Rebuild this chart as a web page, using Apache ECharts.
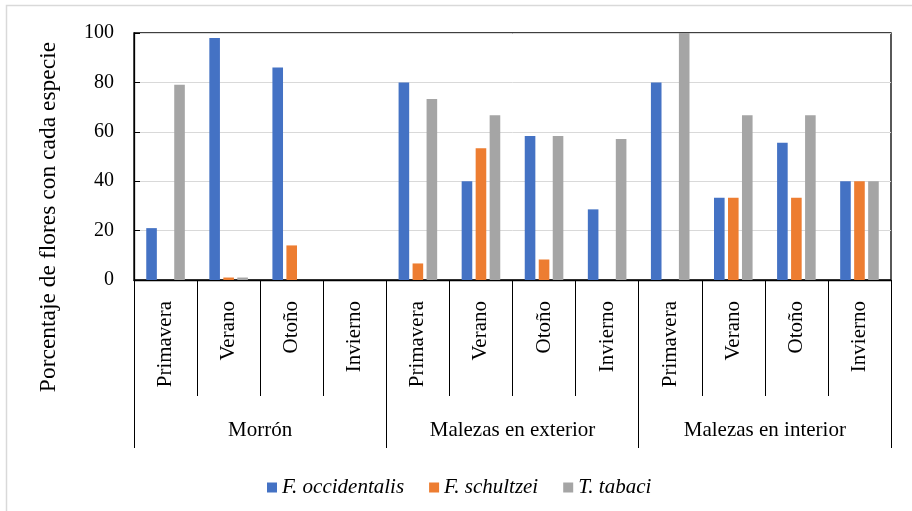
<!DOCTYPE html>
<html>
<head>
<meta charset="utf-8">
<title>Porcentaje de flores con cada especie</title>
<script src="https://cdn.jsdelivr.net/npm/echarts@6/dist/echarts.min.js"></script>
<style>
  html, body { margin: 0; padding: 0; background: #ffffff; }
  #chart { width: 912px; height: 511px; }
</style>
</head>
<body>
<div id="chart"></div>
<script>
// Seasons (inner level) and hosts (outer level) of the category axis
const seasons = ['Primavera', 'Verano', 'Otoño', 'Invierno'];
const hosts = ['Morrón', 'Malezas en exterior', 'Malezas en interior'];

// Percentage of flowers with each thrips species, 4 seasons per host
const occidentalis = [21, 98, 86, 0, 80, 40, 58.3, 28.6, 80, 33.3, 55.6, 40];
const schultzei = [0, 1, 14, 0, 6.7, 53.3, 8.3, 0, 0, 33.3, 33.3, 40];
const tabaci = [79, 1, 0, 0, 73.3, 66.7, 58.3, 57.1, 100, 66.7, 66.7, 40];

const seriesNames = ['F. occidentalis', 'F. schultzei', 'T. tabaci'];
const yTicks = { min: 0, max: 100, step: 20 };
const yTitle = 'Porcentaje de flores con cada especie';

const serif = '"Liberation Serif", "Times New Roman", serif';
const categories = [];
hosts.forEach(h => seasons.forEach(s => categories.push(s)));

const chart = echarts.init(document.getElementById('chart'), null, { renderer: 'canvas' });

const barStyle = (name, values, color) => ({
  name: name,
  type: 'bar',
  data: values,
  barWidth: 10.6,
  barGap: '32%',
  itemStyle: { color: color },
  xAxisIndex: 0,
  yAxisIndex: 0
});

chart.setOption({
  animation: false,
  backgroundColor: '#ffffff',
  textStyle: { fontFamily: serif, color: '#000' },
  grid: {
    left: 134, right: 21, top: 33, height: 247,
    show: true, borderColor: '#000', borderWidth: 1.3,
    containLabel: false
  },
  legend: {
    left: 262, top: 472,
    itemWidth: 10, itemHeight: 10, itemGap: 25,
    icon: 'rect',
    textStyle: { fontFamily: serif, fontSize: 21, fontStyle: 'italic', color: '#000' },
    data: seriesNames
  },
  xAxis: [
    {
      type: 'category',
      data: categories,
      position: 'bottom',
      axisLine: { show: true, lineStyle: { color: '#000', width: 1.3 } },
      axisTick: { show: true, interval: 0, length: 116, lineStyle: { color: '#000', width: 1 } },
      axisLabel: {
        interval: 0, rotate: 90, margin: 21,
        fontFamily: serif, fontSize: 21, color: '#000'
      }
    },
    {
      type: 'category',
      data: hosts,
      position: 'bottom',
      axisLine: { show: false },
      axisTick: { show: true, interval: 0, length: 168, lineStyle: { color: '#000', width: 1 } },
      axisLabel: {
        interval: 0, margin: 140,
        fontFamily: serif, fontSize: 21, color: '#000'
      }
    }
  ],
  yAxis: {
    type: 'value',
    min: yTicks.min, max: yTicks.max, interval: yTicks.step,
    axisLine: { show: true, lineStyle: { color: '#000', width: 1.3 } },
    axisTick: { show: true, inside: true, length: 6, lineStyle: { color: '#000' } },
    splitLine: { show: true, lineStyle: { color: '#d9d9d9', width: 1 } },
    axisLabel: { margin: 20, fontFamily: serif, fontSize: 20, color: '#000' }
  },
  series: [
    barStyle(seriesNames[0], occidentalis, '#4472C4'),
    barStyle(seriesNames[1], schultzei, '#ED7D31'),
    barStyle(seriesNames[2], tabaci, '#A5A5A5')
  ],
  graphic: [
    {
      type: 'polyline',
      silent: true,
      shape: { points: [[6.5, 511], [6.5, 5.5], [912, 5.5]] },
      style: { stroke: '#d9d9d9', lineWidth: 1.5, fill: null }
    },
    {
      type: 'text',
      x: 49, y: 217,
      rotation: Math.PI / 2,
      style: {
        text: yTitle,
        font: '23.5px ' + serif,
        fill: '#000',
        align: 'center',
        verticalAlign: 'middle'
      }
    }
  ]
});
</script>
</body>
</html>
